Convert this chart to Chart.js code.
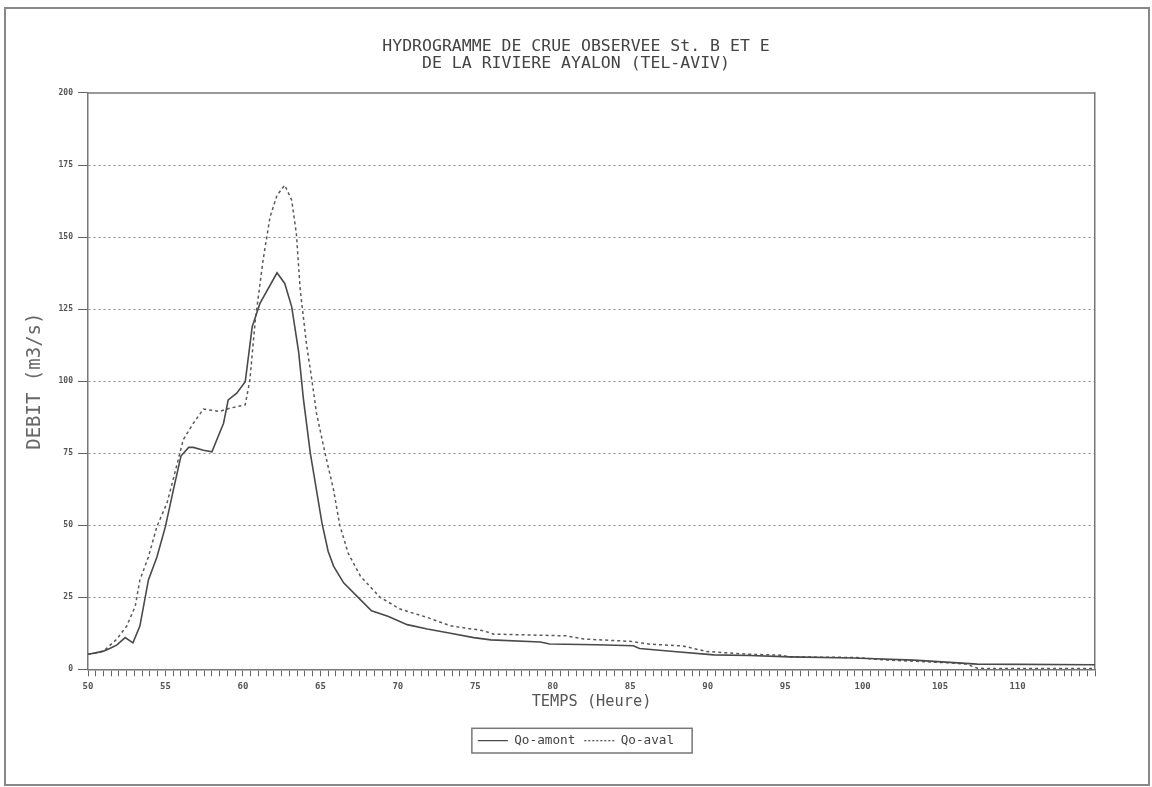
<!DOCTYPE html>
<html>
<head>
<meta charset="utf-8">
<script src="https://cdn.jsdelivr.net/npm/chart.js@4.4.1/dist/chart.umd.min.js"></script>
<style>
html,body{margin:0;padding:0;background:#fff;}
canvas{display:block;}
</style>
</head>
<body>
<canvas id="c" width="1152" height="787"></canvas>
<script>
// ---------- data ----------
const titleLines = ['HYDROGRAMME DE CRUE OBSERVEE St. B ET E', 'DE LA RIVIERE AYALON (TEL-AVIV)'];
const xAxisTitle = 'TEMPS (Heure)';
const yAxisTitle = 'DEBIT (m3/s)';
const seriesNames = ['Qo-amont', 'Qo-aval'];
const xTickLabels = [50, 55, 60, 65, 70, 75, 80, 85, 90, 95, 100, 105, 110];
const yTickLabels = [0, 25, 50, 75, 100, 125, 150, 175, 200];

const amontHours = [50, 50.5, 51, 51.4, 51.85, 52.4, 52.9, 53.35, 53.9, 54.45,
  55, 55.5, 56, 56.5, 56.8, 57.45, 58, 58.4, 58.75, 59.05,
  59.6, 60.15, 60.6, 61.1, 62.2, 62.7, 63.15, 63.6, 63.9, 64.35,
  65.1, 65.5, 65.85, 66.5, 67.5, 68.3, 69.4, 70.6, 71.9, 73.4,
  74.9, 76, 79.2, 79.8, 82.8, 85.2, 85.6, 87.8, 90.4, 92.7,
  95.3, 99.4, 103.3, 105.9, 107.4, 115];
const amontFlow = [5.2, 5.7, 6.3, 7.2, 8.4, 11, 9.2, 15, 31, 39,
  49.6, 62, 74, 77, 77, 76, 75.5, 80.8, 85.4, 93.5,
  95.8, 99.8, 118.9, 127, 137.6, 133.9, 125.8, 110, 94, 75,
  50.8, 41, 35.8, 30, 24.6, 20.3, 18.3, 15.5, 14, 12.5,
  11, 10.2, 9.5, 8.8, 8.5, 8.2, 7.2, 6.2, 5, 4.8,
  4.3, 3.9, 3.2, 2.3, 1.8, 1.6];

const avalHours = [50, 51, 51.85, 52.5, 53.05, 53.35, 53.9, 54.45, 55.1, 55.6,
  56.15, 56.8, 57.45, 58.5, 59.15, 60.15, 60.45, 60.8, 61.3, 61.75,
  62.2, 62.7, 63.15, 63.45, 63.7, 64.1, 64.45, 64.75, 65.3, 65.85,
  66.25, 66.8, 67.6, 68.85, 70.15, 70.8, 71.9, 73.4, 75.5, 76.2,
  80.9, 82, 85, 86.3, 88.4, 89.9, 92.7, 94.7, 95.3, 99.6,
  101.6, 105.4, 106.7, 107.4, 107.8, 115];
const avalFlow = [5.2, 6.3, 10.4, 15, 21.9, 31, 39, 49.6, 57.7, 68,
  79.7, 85.4, 90.3, 89.5, 90.6, 91.8, 100.4, 121.2, 142, 157,
  164.5, 168, 162.8, 151.2, 131.6, 113, 100.4, 88.9, 75, 62.3,
  50, 40.2, 32.2, 25, 20.9, 19.8, 18, 15.1, 13.4, 12.2,
  11.6, 10.5, 9.7, 8.7, 8.1, 6.2, 5.2, 4.9, 4.3, 4.1,
  3.2, 2.3, 1.8, 0.4, 0.3, 0.3];

// ---------- style ----------
const MONO = "'DejaVu Sans Mono', 'Liberation Mono', monospace";
const INK = '#555';
const FRAME = '#777';

const framePlugin = {
  id: 'framePlugin',
  beforeDraw(chart) {
    const ctx = chart.ctx;
    ctx.save();
    ctx.fillStyle = '#fff';
    ctx.fillRect(0, 0, chart.width, chart.height);
    ctx.restore();
  },
  afterDraw(chart) {
    const ctx = chart.ctx;
    const a = chart.chartArea;
    ctx.save();
    // top edge of the plotting frame
    ctx.strokeStyle = FRAME;
    ctx.lineWidth = 1.5;
    ctx.beginPath();
    ctx.moveTo(a.left, a.top);
    ctx.lineTo(a.right, a.top);
    ctx.stroke();
    // page border
    ctx.lineWidth = 2;
    ctx.strokeStyle = '#888';
    ctx.strokeRect(5, 8, chart.width - 8, chart.height - 10);
    // box around legend
    const hb = chart.legend && chart.legend.legendHitBoxes;
    if (hb && hb.length) {
      let l = Infinity, r = -Infinity, t = Infinity, b = -Infinity;
      hb.forEach(h => { l = Math.min(l, h.left); r = Math.max(r, h.left + h.width); t = Math.min(t, h.top); b = Math.max(b, h.top + h.height); });
      ctx.lineWidth = 1.5;
      ctx.strokeStyle = FRAME;
      ctx.strokeRect(l - 6, t - 6, (r - l) + 24, (b - t) + 12);
    }
    ctx.restore();
  }
};

const mk = (hs, vs) => hs.map((h, i) => ({ x: h, y: vs[i] }));

new Chart(document.getElementById('c'), {
  type: 'line',
  data: {
    datasets: [
      {
        label: seriesNames[0],
        data: mk(amontHours, amontFlow),
        borderColor: '#4a4a4a',
        borderWidth: 1.6,
        pointRadius: 0,
        tension: 0,
        fill: false
      },
      {
        label: seriesNames[1],
        data: mk(avalHours, avalFlow),
        borderColor: '#5a5a5a',
        borderWidth: 1.5,
        borderDash: [3, 3],
        pointRadius: 0,
        tension: 0,
        fill: false
      }
    ]
  },
  options: {
    responsive: false,
    animation: false,
    devicePixelRatio: 1,
    layout: { padding: { left: 0, right: 0, top: 0, bottom: 30 } },
    plugins: {
      title: {
        display: true,
        text: titleLines,
        color: '#444',
        font: { family: MONO, size: 16.5, weight: 'normal', lineHeight: 1.03 },
        padding: { top: 38.5, bottom: 20.5 }
      },
      legend: {
        display: true,
        position: 'bottom',
        labels: {
          usePointStyle: true,
          pointStyle: 'line',
          pointStyleWidth: 30,
          color: '#444',
          font: { family: MONO, size: 12.7 },
          padding: 9,
          generateLabels: (chart) => {
            const items = Chart.defaults.plugins.legend.labels.generateLabels(chart);
            items.forEach(it => {
              const ds = chart.data.datasets[it.datasetIndex];
              it.lineDash = ds.borderDash ? [2, 2] : [];
              it.strokeStyle = ds.borderColor;
              it.fillStyle = ds.borderColor;
              it.lineWidth = 1.4;
              it.pointStyle = 'line';
            });
            return items;
          }
        }
      },
      tooltip: { enabled: false }
    },
    scales: {
      x: {
        type: 'linear',
        min: 50,
        max: 115,
        afterFit: s => { s.height = 56; },
        ticks: {
          stepSize: 0.5,
          autoSkip: false,
          maxRotation: 0,
          minRotation: 0,
          padding: 5,
          color: INK,
          font: { family: MONO, size: 9, weight: 'bold' },
          callback: v => (xTickLabels.includes(v) ? String(v) : '')
        },
        grid: {
          drawOnChartArea: false,
          drawTicks: true,
          tickLength: 7,
          tickColor: '#666',
          tickWidth: 1
        },
        border: { display: true, color: FRAME, width: 1.5 },
        title: {
          display: true,
          text: xAxisTitle,
          color: INK,
          font: { family: MONO, size: 15.3 },
          padding: { top: 0, bottom: 14 }
        }
      },
      y: {
        type: 'linear',
        min: 0,
        max: 200,
        afterFit: s => { s.width = 88; },
        ticks: {
          stepSize: 25,
          padding: 5,
          color: INK,
          font: { family: MONO, size: 8, weight: 'bold' },
          callback: v => (yTickLabels.includes(v) ? String(v) : '')
        },
        grid: {
          drawOnChartArea: true,
          drawTicks: true,
          tickLength: 10,
          lineWidth: 1,
          color: c => (c.tick && (c.tick.value === 0 || c.tick.value === 200)) ? 'rgba(0,0,0,0)' : '#888',
          tickColor: '#666',
          tickBorderDash: []
        },
        border: { display: true, color: FRAME, width: 1.5, dash: [2, 3] },
        title: {
          display: true,
          text: yAxisTitle,
          color: '#666',
          font: { family: MONO, size: 19 },
          padding: { top: 24, bottom: 0 }
        }
      },
      y2: {
        type: 'linear',
        position: 'right',
        min: 0,
        max: 200,
        afterFit: s => { s.width = 57; },
        ticks: { display: false },
        grid: { display: false, drawOnChartArea: false },
        border: { display: true, color: FRAME, width: 1.5 }
      }
    }
  },
  plugins: [framePlugin]
});
</script>
</body>
</html>
